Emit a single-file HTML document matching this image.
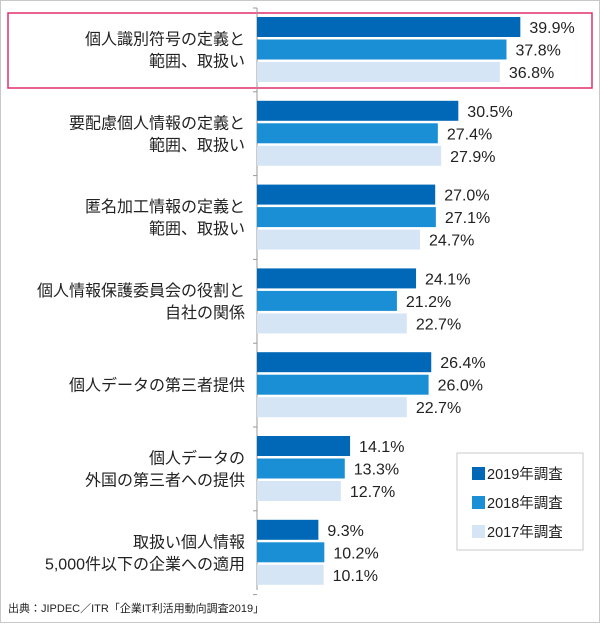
<!DOCTYPE html>
<html><head><meta charset="utf-8"><style>
body{margin:0;background:#fff;}
#wrap{position:relative;width:600px;height:623px;font-family:"Liberation Sans","Noto Sans CJK JP",sans-serif;}
svg text{font-family:"Liberation Sans","Noto Sans CJK JP",sans-serif;}
</style></head><body>
<div id="wrap">
<svg id="chart" width="600" height="623"></svg>
</div>
<script>
const categories=[["個人識別符号の定義と","範囲、取扱い"],["要配慮個人情報の定義と","範囲、取扱い"],["匿名加工情報の定義と","範囲、取扱い"],["個人情報保護委員会の役割と","自社の関係"],["個人データの第三者提供"],["個人データの","外国の第三者への提供"],["取扱い個人情報","5,000件以下の企業への適用"]];
const series2019=[39.9,30.5,27.0,24.1,26.4,14.1,9.3];
const series2018=[37.8,27.4,27.1,21.2,26.0,13.3,10.2];
const series2017=[36.8,27.9,24.7,22.7,22.7,12.7,10.1];
const seriesNames=["2019年調査","2018年調査","2017年調査"];
const colors=["#0068b7","#1a8fd6","#d5e5f6"];
const NS="http://www.w3.org/2000/svg";
const svg=document.getElementById('chart');
function mk(tag,attrs,parent){const e=document.createElementNS(NS,tag);for(const k in attrs)e.setAttribute(k,attrs[k]);(parent||svg).appendChild(e);return e;}
const x0=257,pxPer=6.6;
function xScale(v){return x0+v*pxPer;}
const groupTop=17,groupPitch=83.8,barH=20,barStep=22.5;
function yBar(g,s){return groupTop+g*groupPitch+s*barStep;}
let e=mk('rect',{x:0.5,y:0.5,width:599,height:622,fill:'none',stroke:'#c8c8c8'});


e=mk('rect',{x:8,y:13,width:584,height:75,fill:'none',stroke:'#e0306a','stroke-width':1.5});


e=mk('line',{x1:x0,y1:8,x2:x0,y2:590,stroke:'#999'});


for(let i=0;i<=categories.length;i++){
  const ty=8+i*groupPitch;
  e=mk('line',{x1:x0-4,y1:ty,x2:x0,y2:ty,stroke:'#999'});
  
  
}
const all=[series2019,series2018,series2017];
categories.forEach((lines,g)=>{
  const cy=yBar(g,1)+barH/2;
  const t=mk('text',{x:245,y:cy-(lines.length-1)*11+6,'text-anchor':'end','font-size':16,fill:'#222'});
  
  
  lines.forEach((l,i)=>{const ts=mk('tspan',{x:245,dy:i?22:0},t);ts.textContent=l;});
  all.forEach((ser,s)=>{
    const v=ser[g];
    const r=mk('rect',{x:x0,y:yBar(g,s),width:xScale(v)-x0,height:barH,fill:colors[s]});
    
    
    const vt=mk('text',{x:xScale(v)+9,y:yBar(g,s)+16,'font-size':16,fill:'#222'});
    
    
    vt.textContent=v.toFixed(1)+'%';
  });
});
const lg=mk('g',{});


mk('rect',{x:457,y:453,width:126,height:97,fill:'#fff',stroke:'#c8c8c8'},lg);
seriesNames.forEach((n,i)=>{
  const ly=467+i*29;
  const sw=mk('rect',{x:472,y:ly,width:13,height:13,fill:colors[i]},lg);
  
  
  const lt=mk('text',{x:487,y:ly+12,'font-size':14.5,fill:'#222'},lg);
  
  
  lt.textContent=n;
});
e=mk('text',{x:8,y:612,'font-size':11,fill:'#222'});


e.textContent='出典：JIPDEC／ITR「企業IT利活用動向調査2019」';
</script>
</body></html>
